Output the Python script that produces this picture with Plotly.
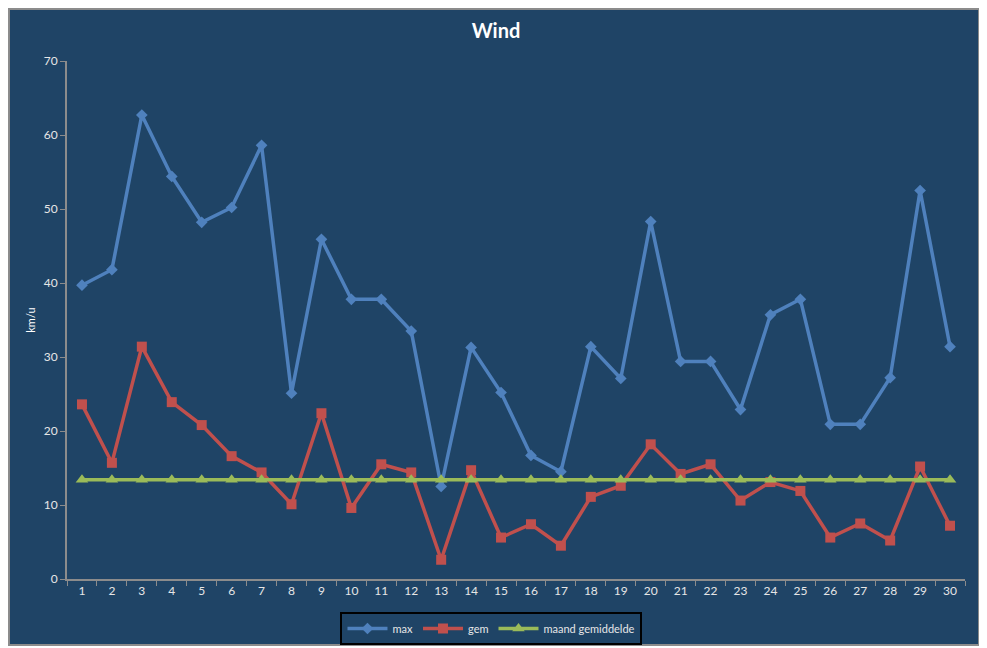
import plotly.graph_objects as go

# dagen van de maand
dagen = [str(d) for d in range(1, 31)]

# windsnelheid in km/u
wind_max = [39.7, 41.8, 62.7, 54.4, 48.2, 50.2, 58.6, 25.1, 45.9, 37.8,
            37.8, 33.5, 12.5, 31.3, 25.2, 16.7, 14.5, 31.4, 27.1, 48.3,
            29.4, 29.4, 22.9, 35.7, 37.8, 20.9, 20.9, 27.2, 52.5, 31.4]
wind_gem = [23.6, 15.7, 31.4, 23.9, 20.8, 16.6, 14.4, 10.1, 22.4, 9.6,
            15.5, 14.4, 2.6, 14.7, 5.6, 7.4, 4.5, 11.1, 12.6, 18.2,
            14.2, 15.5, 10.6, 13.1, 11.9, 5.6, 7.5, 5.2, 15.2, 7.2]
maand_gem = [13.4, 13.4, 13.4, 13.4, 13.4, 13.4, 13.4, 13.4, 13.4, 13.4,
             13.4, 13.4, 13.4, 13.4, 13.4, 13.4, 13.4, 13.4, 13.4, 13.4,
             13.4, 13.4, 13.4, 13.4, 13.4, 13.4, 13.4, 13.4, 13.4, 13.4]

bg = "#1F4466"
tekst = "#E6E6E6"
as_kleur = "#8C8C8C"

fig = go.Figure()

fig.add_trace(go.Scatter(
    x=dagen, y=wind_max, name="max", mode="lines+markers",
    line=dict(color="#4F81BD", width=3.5),
    marker=dict(symbol="diamond", size=9, color="#4F81BD")
))
fig.add_trace(go.Scatter(
    x=dagen, y=wind_gem, name="gem", mode="lines+markers",
    line=dict(color="#C0504D", width=3.5),
    marker=dict(symbol="square", size=10, color="#C0504D")
))
fig.add_trace(go.Scatter(
    x=dagen, y=maand_gem, name="maand gemiddelde", mode="lines+markers",
    line=dict(color="#9BBB59", width=3.5),
    marker=dict(symbol="triangle-up", size=11, color="#9BBB59")
))

# rand om de grafiek
fig.add_shape(
    type="rect", xref="paper", yref="paper",
    x0=-0.0646, x1=1.0156, y0=-0.1274, y1=1.1004,
    fillcolor=bg, line=dict(color="#8C8C8C", width=2), layer="below"
)

# de pagina heeft 8px marge, daarom iets kleiner
fig.update_layout(
    width=979, height=640,
    margin=dict(l=59, r=22, t=53, b=69, autoexpand=False),
    paper_bgcolor="white",
    plot_bgcolor=bg,
    font=dict(family="Lato", size=12, color=tekst),
    title=dict(text="<b>Wind</b>", x=0.4985, xanchor="center",
               y=0.964, yanchor="middle",
               font=dict(size=20, color="white")),
    showlegend=True,
    legend=dict(
        orientation="h", x=0.4727, xanchor="center", y=-0.0637, yanchor="top",
        bgcolor=bg, bordercolor="black", borderwidth=2,
        font=dict(size=11, color=tekst), itemwidth=40,
        tracegroupgap=0
    ),
    xaxis=dict(
        type="category", tickson="boundaries", ticks="outside", ticklen=5,
        tickcolor=as_kleur, showline=True, linecolor=as_kleur, linewidth=2,
        showgrid=False, zeroline=False, tickfont=dict(size=12, color=tekst),
        range=[-0.5, 29.5], automargin=False
    ),
    yaxis=dict(
        range=[0, 70], dtick=10, ticks="outside", ticklen=5,
        tickcolor=as_kleur, showline=True, linecolor=as_kleur, linewidth=2,
        showgrid=False, zeroline=False, tickfont=dict(size=12, color=tekst),
        title=dict(text="km/u", font=dict(size=11, color="white"), standoff=6),
        automargin=False
    )
)

fig.write_html("out.html")
